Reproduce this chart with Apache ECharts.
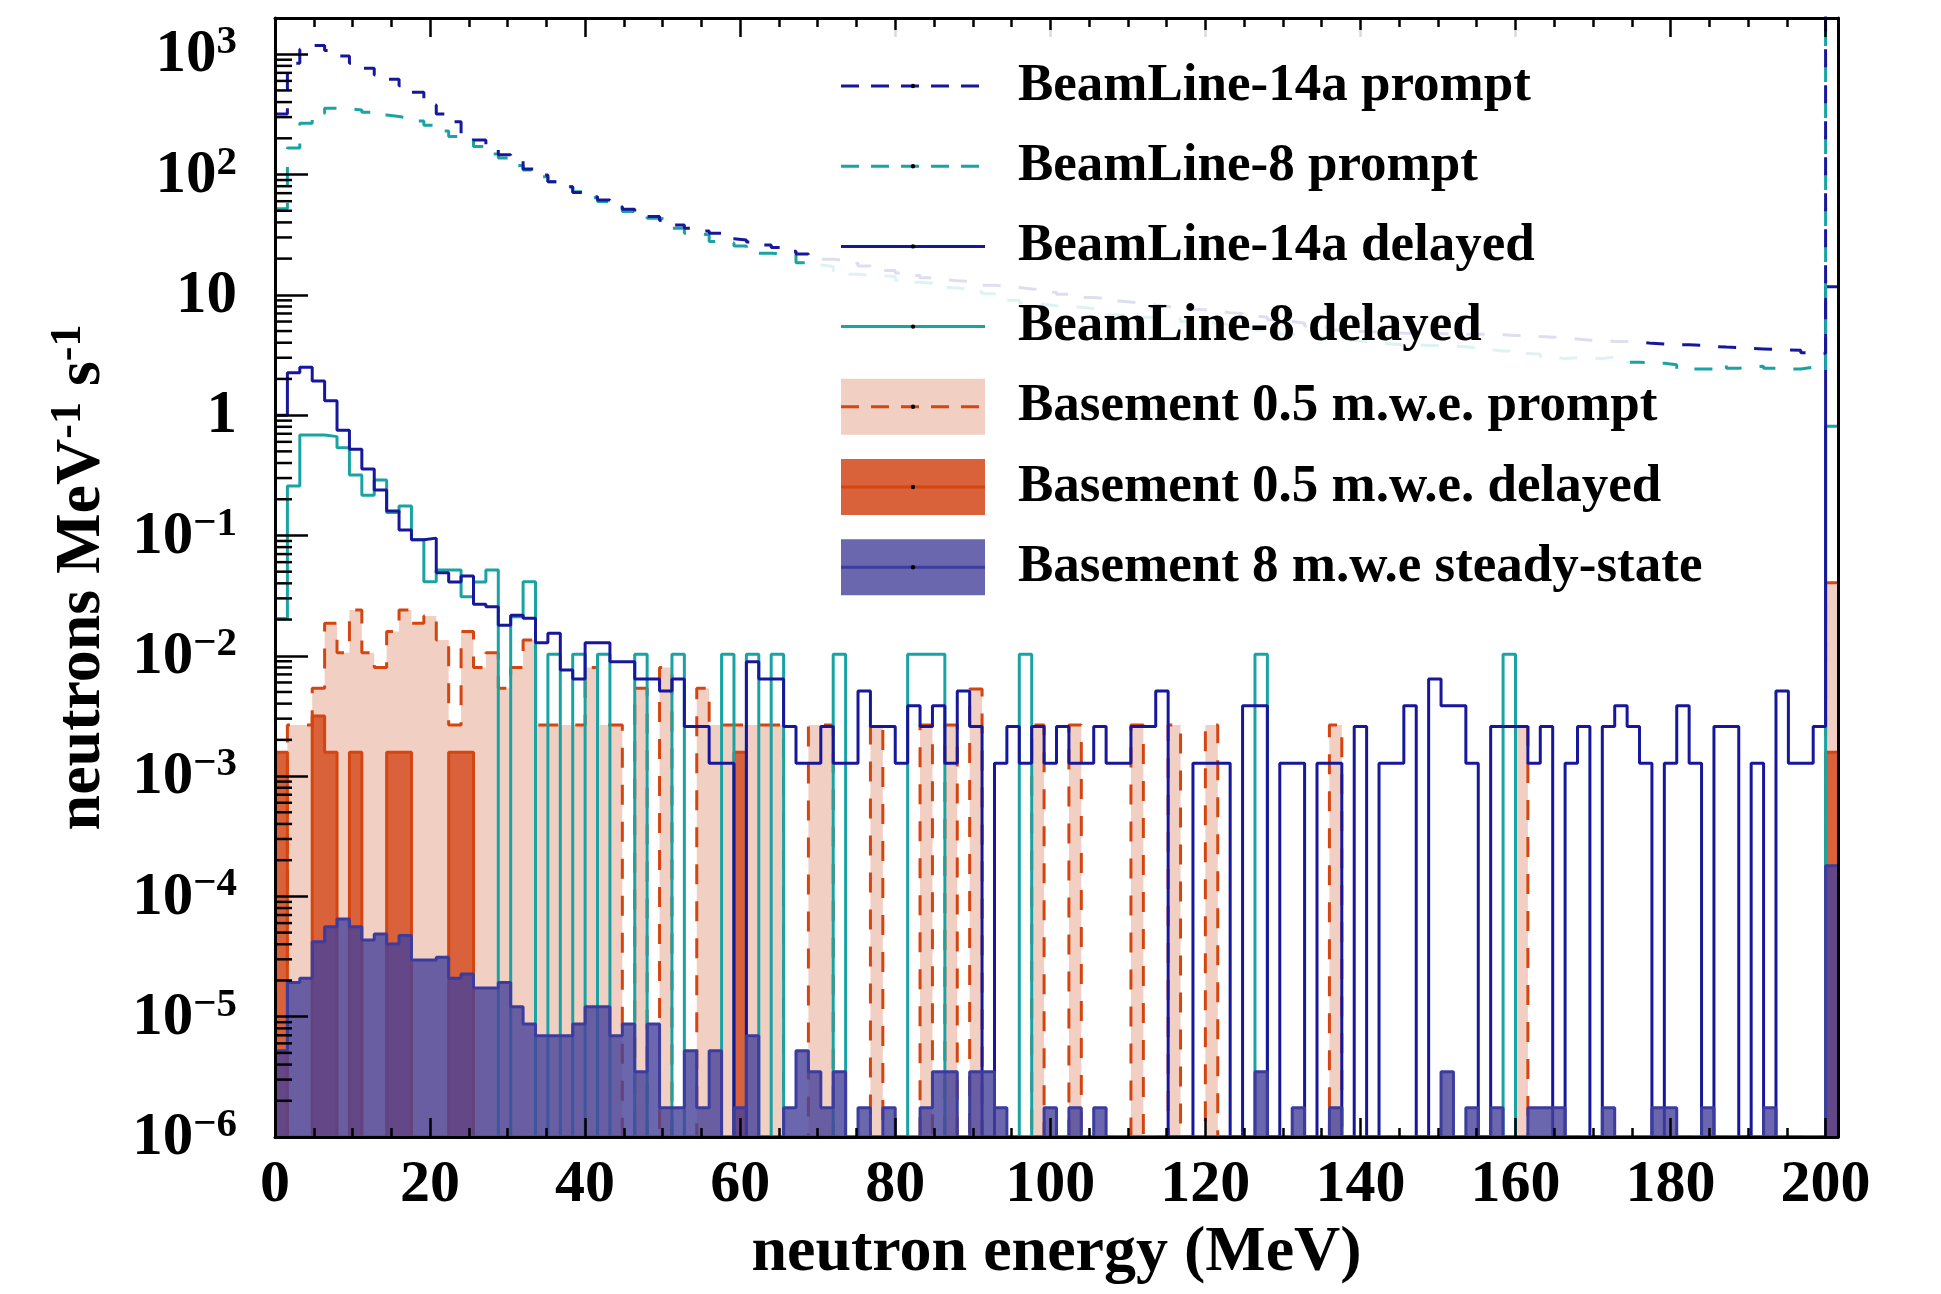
<!DOCTYPE html>
<html>
<head>
<meta charset="utf-8">
<script src="https://cdn.jsdelivr.net/npm/echarts/dist/echarts.min.js"></script>
<style>
html,body{margin:0;padding:0;background:#fff;}
#chart{width:1941px;height:1294px;}
</style>
</head>
<body>
<div id="chart"></div>
<script>
// ---------------- DATA ----------------
const BIN_WIDTH = 1.6;          // MeV per bin
const N_BINS = 126;             // last bin (200-201.6) is the overflow bin
const xTickValues = [0, 20, 40, 60, 80, 100, 120, 140, 160, 180, 200];
const yTickExponents = [-6, -5, -4, -3, -2, -1, 0, 1, 2, 3];

const legendLabels = [
  'BeamLine-14a prompt',
  'BeamLine-8 prompt',
  'BeamLine-14a delayed',
  'BeamLine-8 delayed',
  'Basement 0.5 m.w.e. prompt',
  'Basement 0.5 m.w.e. delayed',
  'Basement 8 m.w.e steady-state'
];

const bl14aPrompt = [
  319, 842, 1100, 1180, 1072, 968, 842, 765, 673, 620,
  548, 483, 379, 319, 275, 220, 194, 166, 146, 132,
  111, 99, 87, 79, 71, 65.5, 61.5, 54, 51.5, 48,
  44.7, 41.4, 38, 35.7, 34, 32.5, 29.2, 28.6, 27.5, 26,
  24.7, 23, 21.9, 20.8, 19.8, 19.2, 18.3, 17.4, 16.6, 15.9,
  15.2, 14.5, 13.9, 13.4, 13.1, 12.9, 12.5, 12.0, 11.8, 11.5,
  11.2, 11.0, 10.5, 10.1, 9.9, 9.5, 9.3, 8.9, 8.7, 8.5,
  8.2, 8.0, 7.8, 7.6, 7.5, 7.3, 7.1, 7.0, 6.7, 6.5,
  6.2, 6.0, 5.8, 5.5, 5.3, 5.1, 5.0, 4.95, 4.9, 4.85,
  4.8, 4.8, 4.75, 4.75, 4.7, 4.7, 4.7, 4.7, 4.65, 4.6,
  4.6, 4.5, 4.45, 4.4, 4.3, 4.2, 4.2, 4.1, 4.1, 4.05,
  3.95, 3.9, 3.85, 3.85, 3.8, 3.72, 3.68, 3.65, 3.58, 3.55,
  3.52, 3.48, 3.46, 3.3, 3.27, 5000
];

const bl8Prompt = [
  52, 166, 267, 323, 356, 352, 344, 330, 313, 303,
  292, 279, 257, 230, 207, 194, 171, 148, 137, 119,
  109, 96, 87, 79, 72, 64, 59.6, 53.5, 49.2, 46.5,
  43.3, 42, 35.7, 32.5, 31.5, 27.7, 27, 25.5, 23.7, 22.2,
  22, 21.6, 18.5, 17.7, 17.2, 15.8, 14.8, 14.5, 14.4, 14.2,
  13.2, 12.7, 12.5, 11.6, 11.4, 11.2, 10.6, 10.2, 9.4, 9.0,
  8.6, 8.3, 8.1, 8.0, 7.9, 7.7, 7.6, 6.8, 6.6, 6.5,
  6.5, 6.4, 6.3, 6.0, 5.9, 5.8, 5.6, 5.5, 5.3, 5.1,
  4.9, 4.7, 4.6, 4.5, 4.4, 4.3, 4.2, 4.1, 4.0, 3.9,
  3.85, 3.85, 3.8, 3.8, 3.75, 3.7, 3.6, 3.5, 3.42, 3.4,
  3.25, 3.2, 3.05, 2.95, 3.0, 3.0, 2.95, 3.05, 3.0, 2.75,
  2.72, 2.7, 2.62, 2.42, 2.42, 2.42, 2.6, 2.45, 2.5, 2.55,
  2.45, 2.42, 2.42, 2.5, 2.35, 5000
];

const bl14aDelayed = [
  1.0, 2.25, 2.5, 1.92, 1.32, 0.75, 0.52, 0.357, 0.239, 0.16,
  0.111, 0.092, 0.095, 0.049, 0.041, 0.046, 0.0268, 0.0256, 0.0179, 0.0217,
  0.0205, 0.0128, 0.0154, 0.0076, 0.0064, 0.0128, 0.0128, 0.0089, 0.0089, 0.0064,
  0.0064, 0.0051, 0.0064, 0.00258, 0.00258, 0.00128, 0.00128, 0, 0.0089, 0.0064,
  0.0064, 0.00258, 0.00128, 0.00128, 0.00258, 0.00128, 0.00128, 0.0051, 0.00258, 0.00258,
  0.00128, 0.00385, 0.00258, 0.00385, 0.00128, 0.0051, 0.00258, 0, 0.00128, 0.00258,
  0.00128, 0.00258, 0.00128, 0.00258, 0.00128, 0.00128, 0.00258, 0.00128, 0.00128, 0.00258,
  0.00258, 0.0051, 0, 0, 0.00128, 0.00128, 0.00128, 0, 0.00385, 0.00385,
  0, 0.00128, 0.00128, 0, 0.00128, 0.00128, 0, 0.00258, 0, 0.00128,
  0.00128, 0.00385, 0, 0.0064, 0.00385, 0.00385, 0.00128, 0, 0.00258, 0.00258,
  0.00258, 0.00128, 0.00258, 0, 0.00128, 0.00258, 0, 0.00258, 0.00385, 0.00258,
  0.00128, 0, 0.00128, 0.00385, 0.00128, 0, 0.00258, 0.00258, 0, 0.00128,
  0, 0.0051, 0.00128, 0.00128, 0.00258, 11.7
];

const bl8Delayed = [
  0.0204, 0.258, 0.684, 0.684, 0.663, 0.537, 0.318, 0.216, 0.289, 0.155,
  0.176, 0.092, 0.0413, 0.0517, 0.0517, 0.031, 0.041, 0.0517, 0, 0.0211,
  0.0413, 0, 0.0103, 0, 0.0103, 0, 0.0103, 0, 0, 0.0103,
  0, 0, 0.0103, 0, 0, 0, 0.0103, 0, 0.0103, 0,
  0.0103, 0, 0, 0, 0, 0.0103, 0, 0, 0, 0,
  0, 0.0103, 0.0103, 0.0103, 0, 0, 0, 0, 0, 0,
  0.0103, 0, 0, 0, 0, 0, 0, 0, 0, 0,
  0, 0, 0, 0, 0, 0, 0, 0, 0, 0.0103,
  0, 0, 0, 0, 0, 0, 0, 0, 0, 0,
  0, 0, 0, 0, 0, 0, 0, 0, 0, 0.0103,
  0, 0, 0, 0, 0, 0, 0, 0, 0, 0,
  0, 0, 0, 0, 0, 0, 0, 0, 0, 0,
  0, 0, 0, 0, 0, 0.81
];

const basementPrompt = [
  0, 0.00266, 0.00266, 0.00537, 0.0186, 0.0106, 0.024, 0.0106, 0.008, 0.0159,
  0.024, 0.0186, 0.0214, 0.0135, 0.00266, 0.0159, 0.008, 0.0106, 0.00537, 0.008,
  0.0135, 0.00266, 0.00266, 0.00266, 0.00266, 0.008, 0.00266, 0.00266, 0, 0.00537,
  0, 0.008, 0, 0, 0.00537, 0.00266, 0.00266, 0.00266, 0.00266, 0.00266,
  0.00266, 0, 0, 0.00266, 0.00266, 0, 0, 0, 0.00266, 0,
  0, 0, 0.00266, 0, 0.00266, 0, 0.0053, 0, 0, 0,
  0, 0.00266, 0, 0, 0.00266, 0, 0, 0, 0, 0.00266,
  0, 0, 0.00266, 0, 0, 0.00266, 0, 0, 0, 0,
  0, 0, 0, 0, 0, 0.00266, 0, 0, 0, 0,
  0, 0, 0, 0, 0, 0, 0, 0, 0, 0,
  0.00266, 0, 0, 0, 0, 0, 0, 0, 0, 0,
  0, 0, 0, 0, 0, 0, 0, 0, 0, 0,
  0, 0, 0, 0, 0, 0.0405
];

const basementDelayed = [
  0.00158, 0, 0, 0.00316, 0.00158, 0, 0.00158, 0, 0, 0.00158,
  0.00158, 0, 0, 0, 0.00158, 0.00158, 0, 0, 0, 0,
  0, 0, 0, 0, 0, 0, 0, 0, 0, 0,
  0, 0, 0, 0, 0, 0, 0, 0.00158, 0, 0,
  0, 0, 0, 0, 0, 0, 0, 0, 0, 0,
  0, 0, 0, 0, 0, 0, 0, 0, 0, 0,
  0, 0, 0, 0, 0, 0, 0, 0, 0, 0,
  0, 0, 0, 0, 0, 0, 0, 0, 0, 0,
  0, 0, 0, 0, 0, 0, 0, 0, 0, 0,
  0, 0, 0, 0, 0, 0, 0, 0, 0, 0,
  0, 0, 0, 0, 0, 0, 0, 0, 0, 0,
  0, 0, 0, 0, 0, 0, 0, 0, 0, 0,
  0, 0, 0, 0, 0, 0.00158
];

const basementSteady = [
  5.2e-6, 1.92e-5, 2.09e-5, 4.2e-5, 5.6e-5, 6.5e-5, 5.6e-5, 4.34e-5, 4.87e-5, 4.02e-5,
  4.72e-5, 2.96e-5, 2.96e-5, 3.12e-5, 2.09e-5, 2.26e-5, 1.73e-5, 1.73e-5, 1.92e-5, 1.21e-5,
  8.7e-6, 6.95e-6, 6.95e-6, 6.95e-6, 8.7e-6, 1.21e-5, 1.21e-5, 6.95e-6, 8.7e-6, 3.49e-6,
  8.7e-6, 1.75e-6, 1.75e-6, 5.2e-6, 1.75e-6, 5.2e-6, 0, 1.75e-6, 6.95e-6, 0,
  0, 1.75e-6, 5.2e-6, 3.49e-6, 1.75e-6, 3.49e-6, 0, 1.75e-6, 0, 1.75e-6,
  0, 0, 1.75e-6, 3.49e-6, 3.49e-6, 0, 3.49e-6, 3.49e-6, 1.75e-6, 0,
  0, 0, 1.75e-6, 0, 1.75e-6, 0, 1.75e-6, 0, 0, 0,
  0, 0, 0, 0, 0, 0, 0, 0, 0, 3.49e-6,
  0, 0, 1.75e-6, 0, 0, 1.75e-6, 0, 0, 0, 0,
  0, 0, 0, 0, 3.49e-6, 0, 1.75e-6, 0, 1.75e-6, 0,
  0, 1.75e-6, 1.75e-6, 1.75e-6, 0, 0, 0, 1.75e-6, 0, 0,
  0, 1.75e-6, 1.75e-6, 0, 0, 1.75e-6, 0, 0, 0, 0,
  1.75e-6, 0, 0, 0, 0, 1.8e-4
];

// ---------------- STYLE / LAYOUT ----------------
const Y_MIN = 1e-6, Y_MAX = 2000;
const X_MIN = 0, X_MAX = N_BINS * BIN_WIDTH;
const FONT = '"Liberation Serif", "Times New Roman", serif';
const NAVY = '#17179c', TEAL = '#1aa3a3', ORANGE = '#d4450f';
const PINK = '#f2cfc3', ORANGE_FILL = '#d9623b';
const STEADY_FILL = 'rgb(70,65,154)', STEADY_LINE = '#3c3b9e';

function histPoints(vals) {
  const pts = vals.map((v, i) => [i * BIN_WIDTH, v > 0 ? v : Y_MIN]);
  const last = vals[vals.length - 1];
  pts.push([vals.length * BIN_WIDTH, last > 0 ? last : Y_MIN]);
  return pts;
}

function stepSeries(name, vals, opts) {
  return Object.assign({
    name: name,
    type: 'line',
    step: 'end',
    data: histPoints(vals),
    symbol: 'none',
    xAxisIndex: 0,
    yAxisIndex: 0,
    clip: true,
    animation: false,
    silent: true
  }, opts);
}

// minor log ticks (2..9 x 10^n) on the y axis
const minorYTicks = [];
yTickExponents.forEach(e => {
  for (let m = 2; m <= 9; m++) {
    const v = m * Math.pow(10, e);
    if (v < Y_MAX) minorYTicks.push([X_MIN, v]);
  }
});

const chart = echarts.init(document.getElementById('chart'), null, {renderer: 'canvas'});

const tickLabelStyle = {fontFamily: FONT, fontWeight: 'bold', fontSize: 60, color: '#000'};

const xAxisCommon = {
  type: 'value', min: X_MIN, max: X_MAX, interval: 20,
  splitLine: {show: false},
  axisLine: {show: true, onZero: false, lineStyle: {color: '#000', width: 3}},
  axisTick: {show: true, inside: true, length: 19, lineStyle: {color: '#000', width: 2.5}},
  minorTick: {show: true, splitNumber: 4, length: 9, lineStyle: {color: '#000', width: 2.5}},
  z: 10
};

const option = {
  animation: false,
  backgroundColor: '#ffffff',
  grid: {left: 275, right: 103, top: 18, bottom: 157, show: false},
  xAxis: [
    Object.assign({}, xAxisCommon, {
      position: 'bottom',
      name: 'neutron energy (MeV)',
      nameLocation: 'middle',
      nameGap: 84,
      nameTextStyle: {fontFamily: FONT, fontWeight: 'bold', fontSize: 64, color: '#000'},
      axisLabel: Object.assign({
        margin: 18,
        showMaxLabel: true,
        formatter: v => (xTickValues.indexOf(Math.round(v * 1000) / 1000) >= 0 ? String(Math.round(v)) : '')
      }, tickLabelStyle)
    }),
    Object.assign({}, xAxisCommon, {
      position: 'top',
      axisLabel: {show: false}
    })
  ],
  yAxis: [
    {
      type: 'log', logBase: 10, min: Y_MIN, max: Y_MAX,
      position: 'left',
      splitLine: {show: false},
      axisLine: {show: true, onZero: false, lineStyle: {color: '#000', width: 3}},
      axisTick: {show: true, inside: true, length: 33, lineStyle: {color: '#000', width: 2.5}},
      minorTick: {show: false},
      name: 'neutrons MeV{s|-1} s{s|-1}',
      nameLocation: 'middle',
      nameRotate: 90,
      nameGap: 158,
      nameTextStyle: {
        fontFamily: FONT, fontWeight: 'bold', fontSize: 64, color: '#000', lineHeight: 70,
        rich: {
          s: {fontFamily: FONT, fontWeight: 'bold', fontSize: 44, color: '#000', lineHeight: 36, verticalAlign: 'top'}
        }
      },
      axisLabel: {
        margin: 38,
        showMaxLabel: false,
        formatter: function (v) {
          const lg = Math.log10(v);
          const e = Math.round(lg);
          if (Math.abs(lg - e) > 1e-6 || yTickExponents.indexOf(e) < 0) return '';
          if (e === 0) return '{b|1}';
          if (e === 1) return '{b|10}';
          return '{b|10}{s|' + (e < 0 ? '\u2212' + (-e) : String(e)) + '}';
        },
        rich: {
          b: {fontFamily: FONT, fontWeight: 'bold', fontSize: 61, color: '#000', lineHeight: 64, verticalAlign: 'bottom'},
          s: {fontFamily: FONT, fontWeight: 'bold', fontSize: 41, color: '#000', lineHeight: 30, verticalAlign: 'top'}
        }
      },
      z: 10
    },
    {
      type: 'log', logBase: 10, min: Y_MIN, max: Y_MAX,
      position: 'right',
      splitLine: {show: false},
      axisLine: {show: true, onZero: false, lineStyle: {color: '#000', width: 3}},
      axisTick: {show: false},
      axisLabel: {show: false},
      z: 10
    }
  ],
  series: [
    stepSeries('Basement 0.5 m.w.e. prompt fill', basementPrompt, {
      lineStyle: {width: 0, opacity: 0},
      areaStyle: {color: PINK, opacity: 1, origin: 'start'},
      z: 1
    }),
    stepSeries('Basement 0.5 m.w.e. delayed', basementDelayed, {
      lineStyle: {color: ORANGE, width: 3},
      areaStyle: {color: ORANGE_FILL, opacity: 1, origin: 'start'},
      z: 2
    }),
    stepSeries('Basement 0.5 m.w.e. prompt', basementPrompt, {
      lineStyle: {color: ORANGE, width: 3, type: [20, 17]},
      z: 3
    }),
    stepSeries('BeamLine-8 delayed', bl8Delayed, {
      lineStyle: {color: TEAL, width: 3},
      z: 4
    }),
    stepSeries('BeamLine-14a delayed', bl14aDelayed, {
      lineStyle: {color: NAVY, width: 3},
      z: 4
    }),
    stepSeries('BeamLine-8 prompt', bl8Prompt, {
      lineStyle: {color: TEAL, width: 3, type: [18, 18]},
      z: 4
    }),
    stepSeries('BeamLine-14a prompt', bl14aPrompt, {
      lineStyle: {color: NAVY, width: 3, type: [18, 18]},
      z: 4
    }),
    stepSeries('Basement 8 m.w.e steady-state', basementSteady, {
      lineStyle: {color: STEADY_LINE, width: 3},
      areaStyle: {color: STEADY_FILL, opacity: 0.8, origin: 'start'},
      z: 5
    }),
    {
      name: 'minor y ticks',
      type: 'custom',
      data: minorYTicks,
      xAxisIndex: 0,
      yAxisIndex: 0,
      silent: true,
      z: 11,
      renderItem: function (params, api) {
        const p = api.coord([api.value(0), api.value(1)]);
        return {
          type: 'line',
          shape: {x1: p[0], y1: p[1], x2: p[0] + 17, y2: p[1]},
          style: {stroke: '#000', lineWidth: 2.5}
        };
      }
    }
  ],
  graphic: []
};

// legend drawn with graphic elements
const LEG = {boxX: 810, boxY: 30, boxW: 820, boxH: 590, x0: 841, x1: 985, tx: 1018, y0: 86, dy: 80.2, iconH: 56};
const legendIcons = [
  {line: NAVY, dash: [18, 12]},
  {line: TEAL, dash: [18, 12]},
  {line: NAVY, dash: null},
  {line: TEAL, dash: null},
  {fill: PINK, line: ORANGE, dash: [18, 12]},
  {fill: ORANGE_FILL, line: ORANGE, dash: null},
  {fill: 'rgb(107,103,174)', line: STEADY_LINE, dash: null}
];
const g = option.graphic;
g.push({type: 'rect', silent: true, z: 100, shape: {x: LEG.boxX, y: LEG.boxY, width: LEG.boxW, height: LEG.boxH},
        style: {fill: 'rgba(255,255,255,0.86)'}});
legendLabels.forEach((label, i) => {
  const yc = LEG.y0 + i * LEG.dy;
  const ic = legendIcons[i];
  if (ic.fill) {
    g.push({type: 'rect', silent: true, z: 101,
            shape: {x: LEG.x0, y: yc - LEG.iconH / 2, width: LEG.x1 - LEG.x0, height: LEG.iconH},
            style: {fill: ic.fill}});
  }
  g.push({type: 'line', silent: true, z: 102,
          shape: {x1: LEG.x0, y1: yc, x2: LEG.x1, y2: yc},
          style: {stroke: ic.line, lineWidth: 3, lineDash: ic.dash || null}});
  g.push({type: 'circle', silent: true, z: 103,
          shape: {cx: (LEG.x0 + LEG.x1) / 2, cy: yc, r: 2.2},
          style: {fill: '#000'}});
  g.push({type: 'text', silent: true, z: 103, x: LEG.tx, y: yc,
          style: {text: label, fontFamily: FONT, fontWeight: 'bold', fontSize: 53, fill: '#000',
                  align: 'left', verticalAlign: 'middle'}});
});

chart.setOption(option);
</script>
</body>
</html>
